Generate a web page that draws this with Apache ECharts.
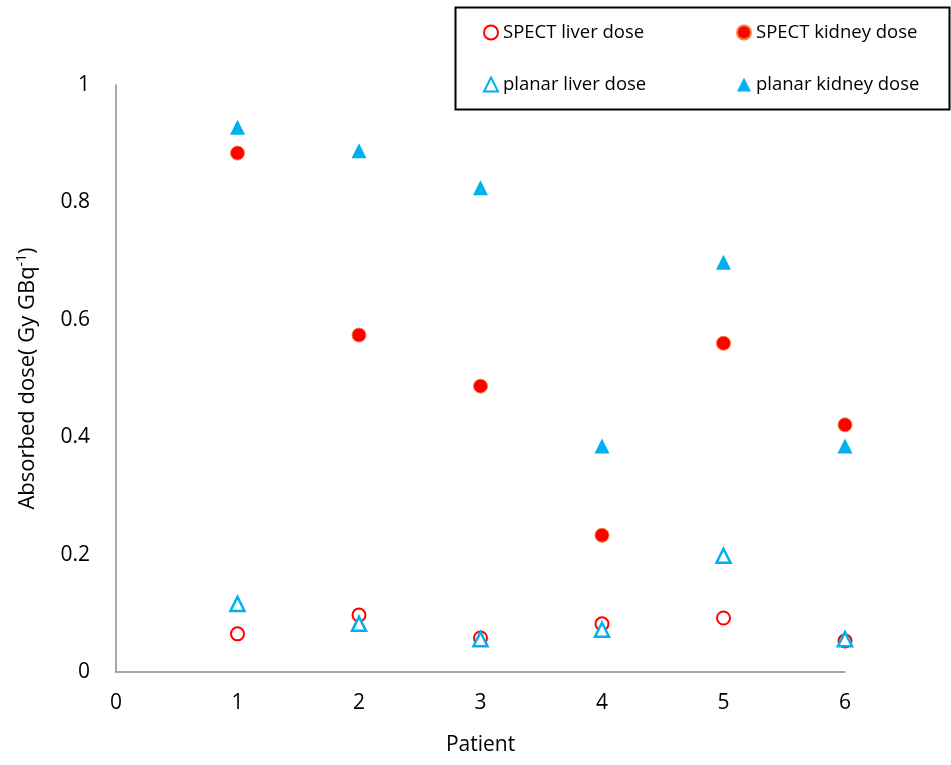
<!DOCTYPE html>
<html>
<head>
<meta charset="utf-8">
<script src="https://cdn.jsdelivr.net/npm/echarts@6/dist/echarts.min.js"></script>
<style>
	html, body { margin: 0; padding: 0; background: #fff; }
	#chart { width: 951px; height: 765px; }
</style>
</head>
<body>
<div id="chart"></div>
<script>
'use strict';
var patients = [1, 2, 3, 4, 5, 6];
var spectLiver = [0.065, 0.097, 0.058, 0.082, 0.092, 0.053];
var spectKidney = [0.884, 0.574, 0.487, 0.233, 0.560, 0.421];
var planarLiver = [0.116, 0.082, 0.056, 0.072, 0.198, 0.056];
var planarKidney = [0.928, 0.888, 0.825, 0.385, 0.698, 0.385];
var yTicks = [0, 0.2, 0.4, 0.6, 0.8, 1];

var red = '#ff0000';
var blue = '#00b0f0';

function pairs(vals) {
	var out = [];
	for (var i = 0; i < patients.length; i++) {
		out.push([patients[i], vals[i]]);
	}
	return out;
}

function makeSeries(name, vals, symbol, size, itemStyle) {
	itemStyle.opacity = 1;
	return {
		name: name,
		type: 'scatter',
		symbol: symbol,
		symbolSize: size,
		itemStyle: itemStyle,
		data: pairs(vals),
		z: 2
	};
}

var textFont = 'Open Sans';
var legendText = { fontFamily: textFont, fontSize: 18.5, color: '#000' };

var option = {
	animation: false,
	backgroundColor: '#fff',
	grid: { left: 116, right: 106, top: 85, bottom: 93 },
	graphic: [{
		type: 'rect',
		left: 453, top: 5,
		shape: { width: 494, height: 102 },
		style: { fill: 'none', stroke: '#000', lineWidth: 2 },
		z: 10
	}],
	legend: [{
		orient: 'vertical',
		left: 478, top: 18,
		itemWidth: 14, itemHeight: 14,
		itemGap: 33,
		textStyle: legendText,
		data: ['SPECT liver dose', 'planar liver dose']
	}, {
		orient: 'vertical',
		left: 731, top: 18,
		itemWidth: 14, itemHeight: 14,
		itemGap: 33,
		textStyle: legendText,
		data: ['SPECT kidney dose', 'planar kidney dose']
	}],
	xAxis: {
		type: 'value',
		min: 0, max: 6, interval: 1,
		name: 'Patient',
		nameLocation: 'middle',
		nameGap: 63,
		nameTextStyle: { fontFamily: textFont, fontSize: 21, color: '#000' },
		axisLine: { show: true, lineStyle: { color: '#8c8c8c', width: 1.5 } },
		axisTick: { show: false },
		splitLine: { show: false },
		axisLabel: { margin: 21, fontFamily: textFont, fontSize: 21, color: '#000' }
	},
	yAxis: {
		type: 'value',
		min: yTicks[0], max: yTicks[yTicks.length - 1], interval: 0.2,
		name: 'Absorbed dose( Gy GBq{s|-1})',
		nameLocation: 'middle',
		nameGap: 76,
		nameTextStyle: {
			fontFamily: textFont, fontSize: 22, color: '#000',
			rich: { s: { fontFamily: textFont, fontSize: 14, color: '#000', padding: [0, 0, 11, 0] } }
		},
		axisLine: { show: true, lineStyle: { color: '#8c8c8c', width: 1.5 } },
		axisTick: { show: false },
		splitLine: { show: false },
		axisLabel: { margin: 26, fontFamily: textFont, fontSize: 21, color: '#000' }
	},
	series: [
		makeSeries('SPECT liver dose', spectLiver, 'circle', 13, { color: '#fff', borderColor: red, borderWidth: 2 }),
		makeSeries('SPECT kidney dose', spectKidney, 'circle', 14, { color: red, borderColor: '#f5823c', borderWidth: 1 }),
		makeSeries('planar liver dose', planarLiver, 'triangle', 14, { color: '#fff', borderColor: blue, borderWidth: 2.5 }),
		makeSeries('planar kidney dose', planarKidney, 'triangle', 15, { color: blue })
	]
};

var myChart = echarts.init(document.getElementById('chart'), null, { renderer: 'canvas' });
myChart.setOption(option);
</script>
</body>
</html>
